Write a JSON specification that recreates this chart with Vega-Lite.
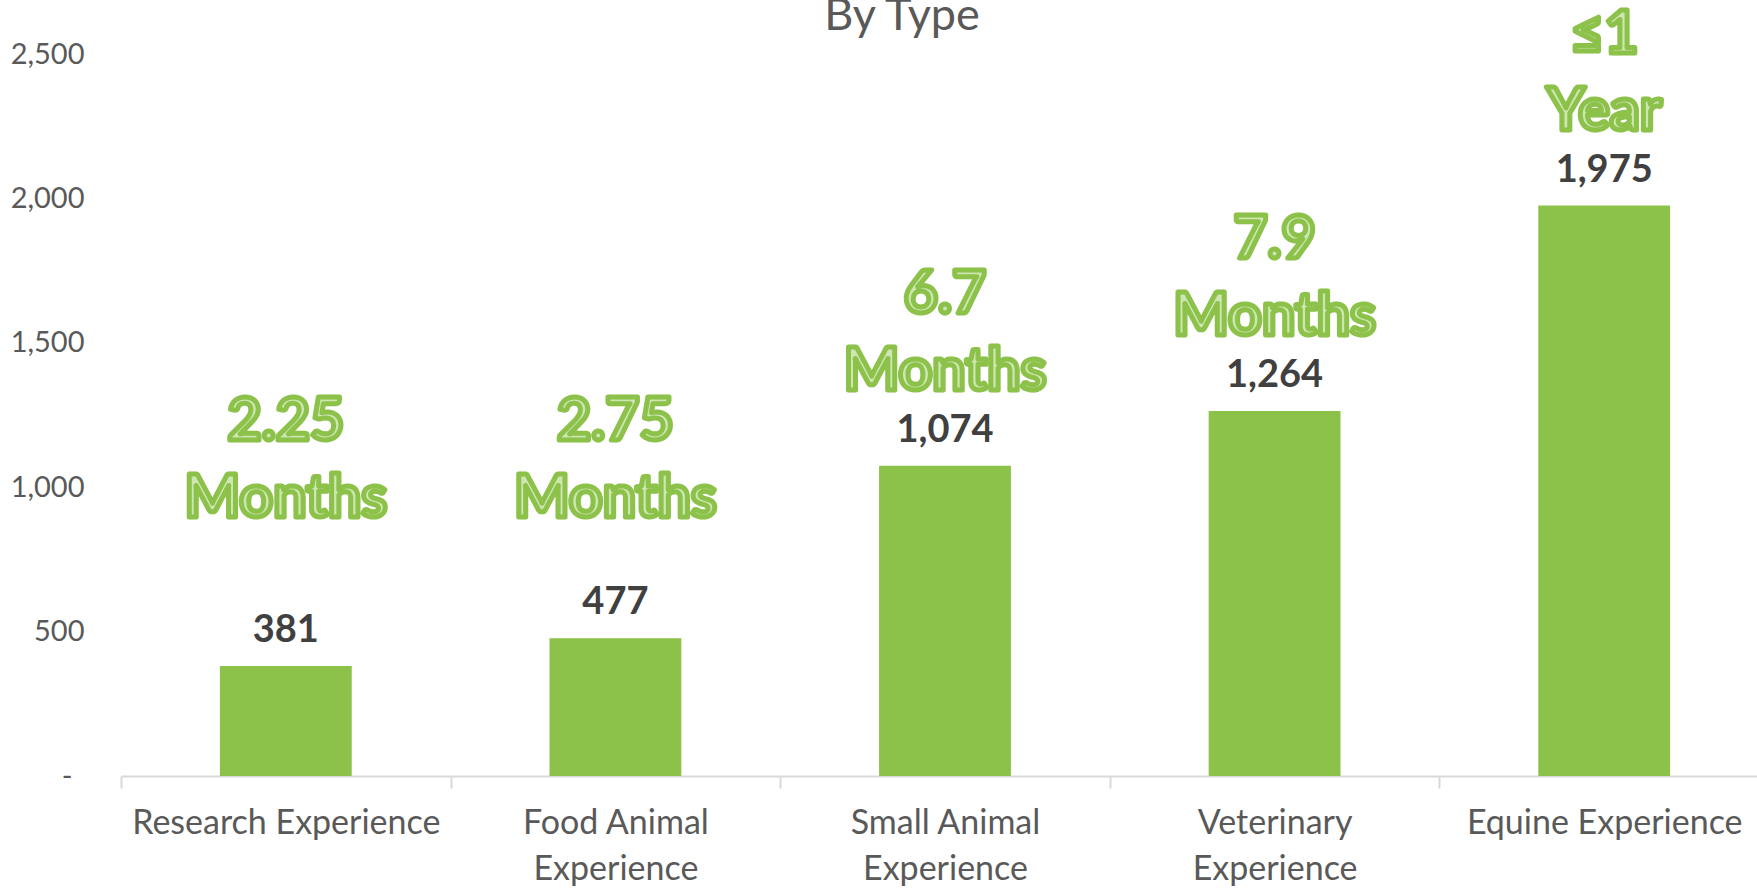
{
  "$schema": "https://vega.github.io/schema/vega-lite/v6.json",
  "autosize": "none",
  "width": 1636,
  "height": 722,
  "padding": {"left": 121, "top": 54, "right": 0, "bottom": 113},
  "background": "white",
  "title": {"text": "By Type", "fontSize": 45, "font": "Lato", "fontWeight": "normal", "color": "#595959", "offset": -33, "dx": -37, "anchor": "middle", "frame": "group"},
  "config": {"view": {"stroke": null}, "font": "Lato"},
  "data": {"values": [
    {"type": "Research Experience", "count": 381, "note": ["2.25", "Months"]},
    {"type": "Food Animal Experience", "count": 477, "note": ["2.75", "Months"]},
    {"type": "Small Animal Experience", "count": 1074, "note": ["6.7", "Months"]},
    {"type": "Veterinary Experience", "count": 1264, "note": ["7.9", "Months"]},
    {"type": "Equine Experience", "count": 1975, "note": ["≤1", "Year"]}
  ]},
  "encoding": {
    "x": {"field": "type", "type": "nominal", "sort": null,
      "scale": {"range": [0, 1648], "paddingInner": 0, "paddingOuter": 0},
      "axis": {"title": null, "labelAngle": 0, "labelFontSize": 34, "labelColor": "#595959", "labelPadding": 18, "labelLineHeight": 46,
        "labelExpr": "length(datum.label) > 20 ? [slice(datum.label, 0, lastindexof(datum.label, ' ')), 'Experience'] : datum.label",
        "tickBand": "extent", "tickSize": 12, "tickWidth": 2, "tickColor": "#d9d9d9", "domainColor": "#d9d9d9", "domainWidth": 2, "labelLimit": 400}},
    "y": {"field": "count", "type": "quantitative", "scale": {"domain": [0, 2500]},
      "axis": {"title": null, "values": [0, 500, 1000, 1500, 2000, 2500], "grid": false, "domain": false, "ticks": false,
        "labelPadding": {"condition": {"test": "datum.value === 0", "value": 49}, "value": 37},
        "labelFontSize": 29, "labelColor": "#595959",
        "labelExpr": "datum.value === 0 ? '-' : format(datum.value, ',')"}}
  },
  "layer": [
    {"mark": {"type": "bar", "color": "#8cc14a", "width": {"band": 0.4}}},
    {"mark": {"type": "text", "baseline": "middle", "dy": -35, "fontSize": 38, "fontWeight": "bold", "color": "#404040"},
     "encoding": {"text": {"field": "count", "type": "quantitative", "format": ","}}},
    {"transform": [{"filter": "datum.count >= 1000"}],
     "mark": {"type": "text", "baseline": "middle", "dy": -171, "fontSize": 59, "fontWeight": "bold", "lineHeight": 77, "fill": "#cde6b2", "stroke": "#8cc14a", "strokeWidth": 5, "strokeJoin": "round"},
     "encoding": {"text": {"field": "note"}}},
    {"transform": [{"filter": "datum.count < 1000"}],
     "mark": {"type": "text", "baseline": "middle", "fontSize": 59, "fontWeight": "bold", "lineHeight": 77, "fill": "#cde6b2", "stroke": "#8cc14a", "strokeWidth": 5, "strokeJoin": "round"},
     "encoding": {"text": {"field": "note"}, "y": {"datum": 1226}}}
  ]
}
